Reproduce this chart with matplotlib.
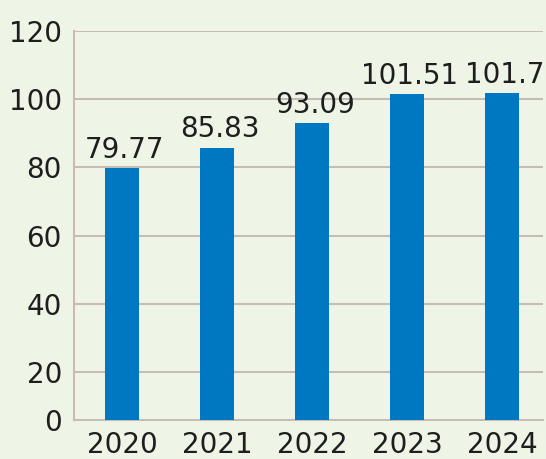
import matplotlib
matplotlib.use("Agg")
import matplotlib.pyplot as plt

# ── data ─────────────────────────────────────────────
years  = ["2020", "2021", "2022", "2023", "2024"]
values = [79.77, 85.83, 93.09, 101.51, 101.7]
labels = ["79.77", "85.83", "93.09", "101.51", "101.7"]

y_ticks      = [6, 20, 40, 60, 80, 100, 120]   # axis floor drawn as "0" in the original
y_ticklabels = ["0", "20", "40", "60", "80", "100", "120"]

BG    = "#eef5e7"
BAR   = "#0077c1"
GRID  = "#c9bbb4"
TEXT  = "#1e1e1e"
FS    = 20

plt.rcParams["font.family"] = ["DejaVu Sans"]

fig = plt.figure(figsize=(5.46, 4.59), dpi=100, facecolor=BG)
ax = fig.add_axes([0.1364, 0.085, 0.858, 0.8475], facecolor=BG)

x = list(range(len(years)))
bars = ax.bar(x, values, width=0.36, color=BAR, zorder=3)

for b, lab in zip(bars, labels):
    ax.annotate(lab, (b.get_x() + b.get_width() / 2, b.get_height()),
                xytext=(2, 3), textcoords="offset points",
                ha="center", va="bottom", fontsize=FS, color=TEXT)

ax.set_xlim(-0.5, 4.43)
ax.set_ylim(6, 120)
ax.set_yticks(y_ticks)
ax.set_yticklabels(y_ticklabels)
ax.set_xticks(x)
ax.set_xticklabels(years)
ax.tick_params(axis="both", length=0, labelsize=FS, labelcolor=TEXT)
ax.tick_params(axis="y", pad=9)
ax.tick_params(axis="x", pad=8)

for yv in y_ticks[1:]:
    ax.axhline(yv, color=GRID, linewidth=1.5, zorder=1)

for side in ["top", "right"]:
    ax.spines[side].set_visible(False)
for side in ["left", "bottom"]:
    ax.spines[side].set_color(GRID)
    ax.spines[side].set_linewidth(1.5)

fig.savefig("out.png", dpi=100, facecolor=BG)
